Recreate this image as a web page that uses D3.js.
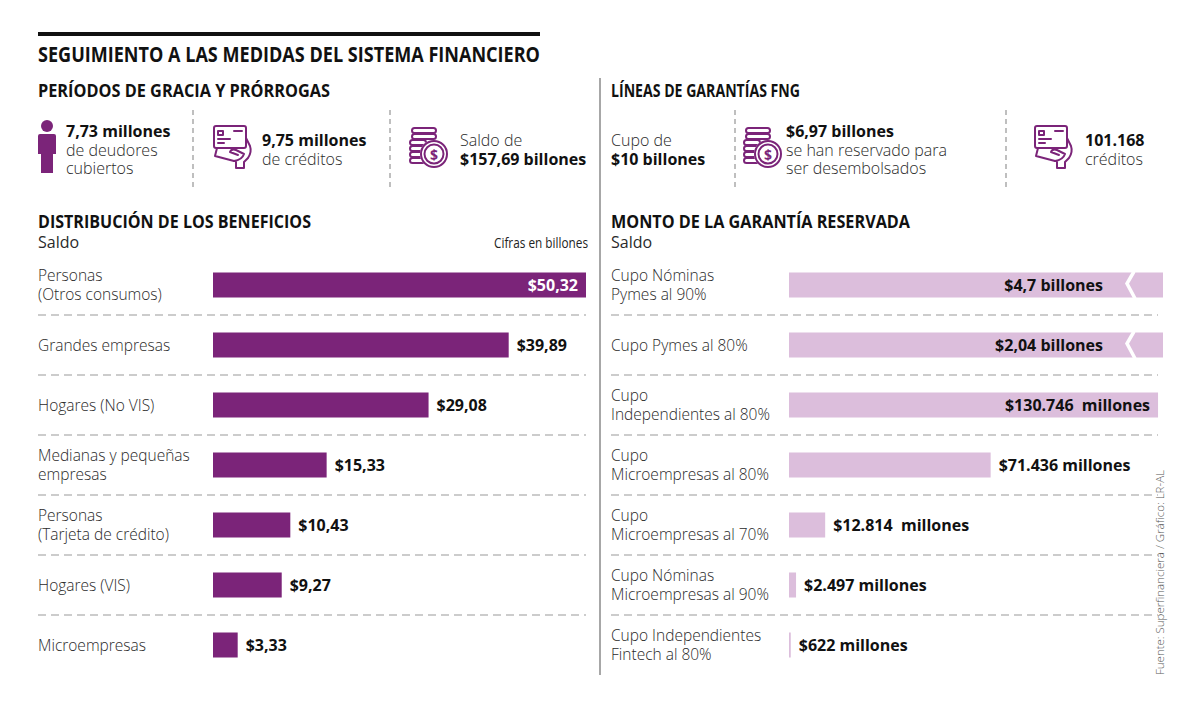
<!DOCTYPE html>
<html>
<head>
<meta charset="utf-8">
<script src="https://cdn.jsdelivr.net/npm/d3@7"></script>
<style>
  body { margin: 0; background: #fff; }
  svg { display: block; font-family: "Open Sans", "Noto Sans", sans-serif; }
  .light { font-weight: 300; fill: #2a2a2a; }
  .bold { font-weight: 700; fill: #111; }
</style>
</head>
<body>
<svg id="chart" width="1200" height="706"></svg>
<script>
// ---- data ----
var leftCats = [
  ["Personas", "(Otros consumos)"],
  ["Grandes empresas"],
  ["Hogares (No VIS)"],
  ["Medianas y pequeñas", "empresas"],
  ["Personas", "(Tarjeta de crédito)"],
  ["Hogares (VIS)"],
  ["Microempresas"]
];
var leftValues = [50.32, 39.89, 29.08, 15.33, 10.43, 9.27, 3.33];

var rightCats = [
  ["Cupo Nóminas", "Pymes al 90%"],
  ["Cupo Pymes al 80%"],
  ["Cupo", "Independientes al 80%"],
  ["Cupo", "Microempresas al 80%"],
  ["Cupo", "Microempresas al 70%"],
  ["Cupo Nóminas", "Microempresas al 90%"],
  ["Cupo Independientes", "Fintech al 80%"]
];
// millones de pesos
var rightValues = [4700000, 2040000, 130746, 71436, 12814, 2497, 622];
var rightLabels = ["$4,7 billones", "$2,04 billones", "$130.746  millones", "$71.436 millones",
                   "$12.814  millones", "$2.497 millones", "$622 millones"];

var statsLeft = [
  { icon: "person", lines: [["7,73 millones", "bold"], ["de deudores", "light"], ["cubiertos", "light"]] },
  { icon: "card", lines: [["9,75 millones", "bold"], ["de créditos", "light"]] },
  { icon: "coins", lines: [["Saldo de", "light"], ["$157,69 billones", "bold"]] }
];
var statsRight = [
  { icon: null, lines: [["Cupo de", "light"], ["$10 billones", "bold"]] },
  { icon: "coins", lines: [["$6,97 billones", "bold"], ["se han reservado para", "light"], ["ser desembolsados", "light"]] },
  { icon: "card", lines: [["101.168", "bold"], ["créditos", "light"]] }
];

var purple = "#7b2479";
var lavender = "#dcbedc";

var locale = d3.formatLocale({ decimal: ",", thousands: ".", grouping: [3], currency: ["$", ""] });
var fmt = locale.format("$,.2f");

var svg = d3.select("#chart");

// squeeze a text element to a target width (condensed headline look)
function fit(sel, w) {
  var len = sel.node().getComputedTextLength();
  if (len > w) sel.attr("textLength", w).attr("lengthAdjust", "spacingAndGlyphs");
  return sel;
}

function heading(x, y, txt, size, w) {
  var t = svg.append("text").attr("x", x).attr("y", y).attr("class", "bold")
    .style("font-size", size + "px").text(txt);
  fit(t, w);
  return t;
}

// ---- header ----
svg.append("rect").attr("x", 38).attr("y", 32).attr("width", 502).attr("height", 4).attr("fill", "#111");
heading(38, 62, "SEGUIMIENTO A LAS MEDIDAS DEL SISTEMA FINANCIERO", 21, 502);
heading(38, 97, "PERÍODOS DE GRACIA Y PRÓRROGAS", 17.5, 292);
heading(611, 97, "LÍNEAS DE GARANTÍAS FNG", 17.5, 189);
heading(38, 228, "DISTRIBUCIÓN DE LOS BENEFICIOS", 17.5, 273);
heading(611, 228, "MONTO DE LA GARANTÍA RESERVADA", 17.5, 299);

svg.append("text").attr("x", 38).attr("y", 248).attr("class", "light").style("font-size", "16px").style("font-weight", 400).text("Saldo");
svg.append("text").attr("x", 611).attr("y", 248).attr("class", "light").style("font-size", "16px").style("font-weight", 400).text("Saldo");
fit(svg.append("text").attr("x", 494).attr("y", 248).style("font-size", "14px").style("fill", "#222").text("Cifras en billones"), 94);

// middle divider
svg.append("line").attr("x1", 600).attr("x2", 600).attr("y1", 78).attr("y2", 675)
  .attr("stroke", "#8a8a8a").attr("stroke-width", 1.5);

// ---- icons ----
function drawIcon(g, type) {
  var s = { fill: "none", stroke: purple, "stroke-width": 2, "stroke-linejoin": "round", "stroke-linecap": "round" };
  function st(el) { for (var k in s) el.attr(k, s[k]); return el; }
  if (type === "person") {
    g.append("circle").attr("cx", 9).attr("cy", 6).attr("r", 6).attr("fill", purple);
    g.append("path").attr("fill", purple)
      .attr("d", "M2,14 H16 Q18,14 18,16 V34 H15 V53 H3 V34 H0 V16 Q0,14 2,14 Z");
  } else if (type === "card") {
    st(g.append("rect").attr("x", 0).attr("y", 0).attr("width", 32).attr("height", 22).attr("rx", 2));
    st(g.append("path").attr("d", "M4,5 h5 v4 h-5 z M4,13 h12 M20,5 h8 M4,17 h6"));
    st(g.append("path").attr("d", "M3,22 L1,30 L20,35"));
    st(g.append("path").attr("d", "M20,35 Q28,34 30,28 L22,24 Q18,22 16,26 L24,29 M32,12 L36,20 Q38,26 34,32 L30,36 V42 H22 V36"));
  } else if (type === "coins") {
    [0, 6, 12, 18, 24, 30].forEach(function (y, i) {
      var w = i < 2 ? 24 : 16;
      st(g.append("rect").attr("x", i < 2 ? 2 : 0).attr("y", y).attr("width", w).attr("height", 5).attr("rx", 2.5));
    });
    g.append("circle").attr("cx", 24).attr("cy", 26).attr("r", 14).attr("fill", "#fff");
    st(g.append("circle").attr("cx", 24).attr("cy", 26).attr("r", 13));
    st(g.append("circle").attr("cx", 24).attr("cy", 26).attr("r", 9.5));
    g.append("text").attr("x", 24).attr("y", 31.5).attr("text-anchor", "middle")
      .style("font-size", "14px").style("font-weight", 700).attr("fill", purple).text("$");
  }
}

// multi-line block as one text element with tspans
function block(x, y, lines, size, lh) {
  var t = svg.append("text").attr("x", x).attr("y", y).style("font-size", size + "px");
  lines.forEach(function (l, j) {
    t.append("tspan").attr("x", x).attr("dy", j === 0 ? 0 : lh)
      .attr("class", l[1]).text(l[0]);
  });
  return t;
}

function drawStats(stats, opts) {
  stats.forEach(function (d, i) {
    var x = opts.xs[i];
    if (d.icon) {
      var ip = opts.icons[i];
      drawIcon(svg.append("g").attr("transform", "translate(" + ip[0] + "," + ip[1] + ")"), d.icon);
    }
    var y0 = d.lines.length === 3 ? 137 : 146;
    block(opts.tx[i], y0, d.lines, 16, 18.5);
    if (i > 0) {
      svg.append("line").attr("x1", x).attr("x2", x).attr("y1", 110).attr("y2", 187)
        .attr("stroke", "#aaa").attr("stroke-width", 1.5).attr("stroke-dasharray", "5,4");
    }
  });
}

drawStats(statsLeft, { xs: [0, 193, 390], icons: [[38, 120], [214, 126], [410, 128]], tx: [66, 262, 460] });
drawStats(statsRight, { xs: [0, 735, 1006], icons: [null, [744, 128], [1035, 126]], tx: [611, 786, 1085] });

// ---- bar sections ----
var rowY = d3.scalePoint().domain(d3.range(7)).range([285, 645]);
var barH = 25;

function catLabels(cats, x) {
  cats.forEach(function (lines, i) {
    var cy = rowY(i);
    var y = lines.length === 2 ? cy - 4 : cy + 6;
    block(x, y, lines.map(function (l) { return [l, "light"]; }), 15.5, 19);
  });
}

function dashes(x1, x2) {
  svg.append("g").selectAll("line").data(d3.range(6)).join("line")
    .attr("x1", x1).attr("x2", x2)
    .attr("y1", function (i) { return rowY(i) + 30; })
    .attr("y2", function (i) { return rowY(i) + 30; })
    .attr("stroke", "#9a9a9a").attr("stroke-width", 1.2).attr("stroke-dasharray", "8,5");
}

// left: distribución de los beneficios
var xL = d3.scaleLinear().domain([0, 50.32]).range([213, 586]);
catLabels(leftCats, 38);
dashes(38, 586);
svg.append("g").selectAll("rect").data(leftValues).join("rect")
  .attr("x", xL(0))
  .attr("y", function (d, i) { return rowY(i) - barH / 2; })
  .attr("width", function (d) { return xL(d) - xL(0); })
  .attr("height", barH)
  .attr("fill", purple);
svg.append("g").selectAll("text").data(leftValues).join("text")
  .attr("class", "bold")
  .style("font-size", "16px")
  .attr("y", function (d, i) { return rowY(i) + 6; })
  .attr("x", function (d) { return xL(d) - xL(0) > 300 ? xL(d) - 8 : xL(d) + 8; })
  .attr("text-anchor", function (d) { return xL(d) - xL(0) > 300 ? "end" : "start"; })
  .style("fill", function (d) { return xL(d) - xL(0) > 300 ? "#fff" : "#111"; })
  .text(function (d) { return fmt(d); });

// right: monto de la garantía reservada (bars above domain are cut with a break)
var xR = d3.scaleLinear().domain([0, 132500]).range([789, 1163]).clamp(true);
catLabels(rightCats, 611);
dashes(611, 1158);
svg.append("g").selectAll("rect").data(rightValues).join("rect")
  .attr("x", xR(0))
  .attr("y", function (d, i) { return rowY(i) - barH / 2; })
  .attr("width", function (d) { return Math.max(1.5, xR(d) - xR(0)); })
  .attr("height", barH)
  .attr("fill", lavender);
var broken = rightValues.map(function (d, i) { return { v: d, i: i }; })
  .filter(function (d) { return d.v > xR.domain()[1]; });
svg.append("g").selectAll("path").data(broken).join("path")
  .attr("d", function (d) {
    var bx = xR.range()[1] - 33, top = rowY(d.i) - barH / 2;
    return "M" + (bx + 4) + "," + (top - 1) + " L" + (bx - 3) + "," + (top + 11) +
      " L" + (bx + 5) + "," + (top + barH + 1);
  })
  .attr("fill", "none").attr("stroke", "#fff").attr("stroke-width", 3.5);
svg.append("g").selectAll("text").data(rightValues).join("text")
  .attr("class", "bold")
  .style("font-size", "16px")
  .style("white-space", "pre")
  .attr("y", function (d, i) { return rowY(i) + 6; })
  .attr("x", function (d) {
    if (d > xR.domain()[1]) return xR.range()[1] - 60;
    return xR(d) - xR(0) > 300 ? xR(d) - 8 : xR(d) + 8;
  })
  .attr("text-anchor", function (d) { return xR(d) - xR(0) > 300 ? "end" : "start"; })
  .text(function (d, i) { return rightLabels[i]; });

// source
svg.append("text").attr("transform", "translate(1164,675) rotate(-90)")
  .style("font-size", "11.5px").style("fill", "#555").style("font-weight", 300)
  .text("Fuente: Superfinanciera / Gráfico: LR-AL");
</script>
</body>
</html>
